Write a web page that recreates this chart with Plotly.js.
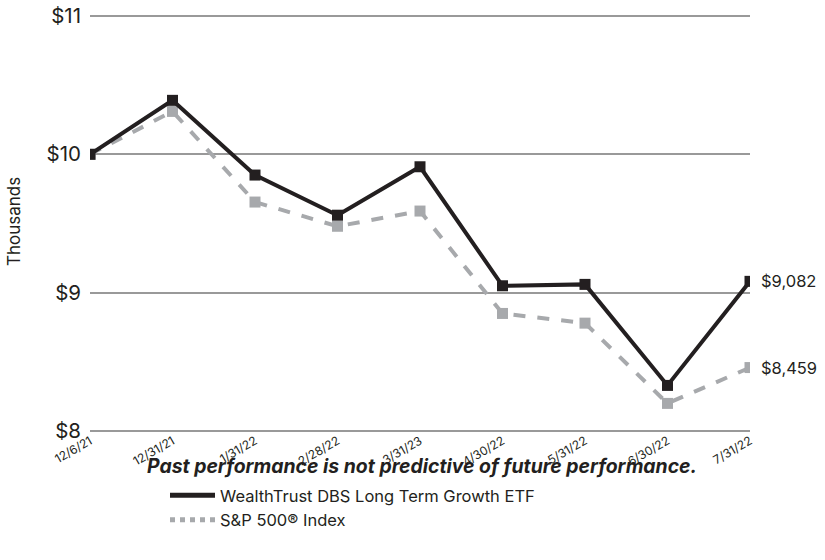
<!DOCTYPE html>
<html>
<head>
<meta charset="utf-8">
<script src="https://cdn.plot.ly/plotly-3.0.1.min.js"></script>
<style>html,body{margin:0;padding:0;background:#fff;}#chart{width:825px;height:560px;}</style>
</head>
<body>
<div id="chart"></div>
<script>
const dates = ["12/6/21","12/31/21","1/31/22","2/28/22","3/31/23","4/30/22","5/31/22","6/30/22","7/31/22"];
const fundName = "WealthTrust DBS Long Term Growth ETF";
const fundValues = [10.0, 10.39, 9.85, 9.56, 9.91, 9.05, 9.06, 8.33, 9.082];
const indexName = "S&P 500® Index";
const indexValues = [10.0, 10.31, 9.655, 9.48, 9.59, 8.85, 8.78, 8.20, 8.459];
const yTickVals = [8, 9, 10, 11];
const yTickText = ["$8", "$9", "$10", "$11"];
const endLabels = ["$9,082", "$8,459"];
const footnote = "Past performance is not predictive of future performance.";
const yTitle = "Thousands";

const FONT = "Inter, 'Open Sans', sans-serif";
const dark = "#231f20";
const grey = "#a7a9ac";

const traces = [
  {x: dates, y: indexValues, type: "scatter", mode: "lines+markers", showlegend: false,
   line: {color: grey, width: 4, dash: "dash"}, marker: {symbol: "square", size: 11, color: grey}},
  {x: dates, y: fundValues, type: "scatter", mode: "lines+markers", showlegend: false,
   line: {color: dark, width: 4}, marker: {symbol: "square", size: 11, color: dark}},
  {x: [null], y: [null], type: "scatter", mode: "lines", name: fundName,
   line: {color: dark, width: 5}},
  {x: [null], y: [null], type: "scatter", mode: "lines", name: indexName,
   line: {color: grey, width: 5, dash: "dot"}}
];

// plot box: y from 9 to 438 px for range [7.95, 11.05]
const PL = 90, PT = 9, PW = 660, PH = 429;
const py = (pix) => 1 - (pix - PT) / PH;   // pixel -> paper y
const px = (pix) => (pix - PL) / PW;       // pixel -> paper x
const layout = {
  width: 825, height: 560,
  margin: {l: PL, r: 825 - PL - PW, t: PT, b: 560 - PT - PH, autoexpand: false},
  paper_bgcolor: "#fff", plot_bgcolor: "#fff",
  font: {family: FONT, color: dark},
  showlegend: true,
  legend: {xref: "container", yref: "container", x: 165 / 825, y: 1 - 478 / 560,
           xanchor: "left", yanchor: "top", font: {size: 16.5, color: dark},
           tracegroupgap: 0, itemwidth: 45, bgcolor: "rgba(0,0,0,0)"},
  xaxis: {type: "category", range: [0, 8], showgrid: false, zeroline: false, showline: false,
          tickangle: -30, tickfont: {size: 12, color: dark}, ticks: "", automargin: false,
          ticklabelstandoff: -7},
  yaxis: {range: [7.95, 11.05], tickvals: yTickVals, ticktext: yTickText, showgrid: true,
          gridcolor: "#999999", gridwidth: 2, zeroline: false, showline: false,
          tickfont: {size: 20.5, color: dark}, ticks: "", ticklen: 0, ticklabelstandoff: 8,
          automargin: false},
  annotations: [
    {x: dates[8], y: fundValues[8], xref: "x", yref: "y", text: endLabels[0], showarrow: false,
     xanchor: "left", yanchor: "middle", xshift: 9, font: {size: 16.5, color: dark}},
    {x: dates[8], y: indexValues[8], xref: "x", yref: "y", text: endLabels[1], showarrow: false,
     xanchor: "left", yanchor: "middle", xshift: 9, font: {size: 16.5, color: dark}},
    {x: px(422), xref: "paper", y: py(466), yref: "paper", xanchor: "center", yanchor: "middle",
     text: "<b><i>" + footnote + "</i></b>", showarrow: false, font: {size: 19.4, color: dark}},
    {x: px(14), xref: "paper", y: py(222), yref: "paper", xanchor: "center", yanchor: "middle",
     text: yTitle, textangle: -90, showarrow: false, font: {size: 17, color: dark}}
  ]
};

Plotly.newPlot("chart", traces, layout, {displayModeBar: false, staticPlot: true});
</script>
</body>
</html>
